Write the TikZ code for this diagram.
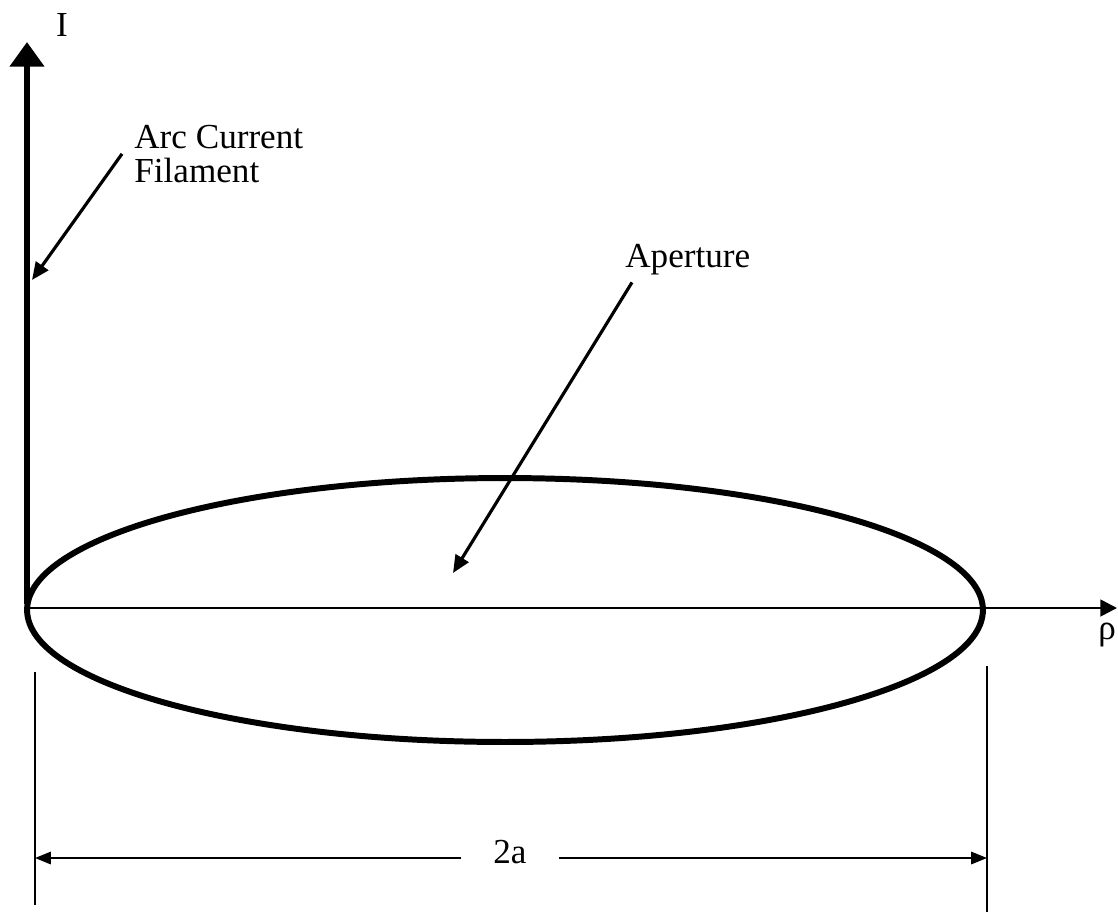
\documentclass[tikz,border=0pt]{standalone}
\usepackage{fontspec}
\setmainfont{Liberation Serif}
\usetikzlibrary{arrows.meta,shapes.geometric}
\tikzset{
  lbl/.style={font=\fontsize{20}{19}\selectfont,inner sep=0pt},
  leader/.style={line width=1.8pt,-{Triangle[length=10pt,width=8.5pt]}},
  dimline/.style={line width=1.2pt},
  dimarrow/.style={line width=1.2pt,-{Triangle[length=9pt,width=7pt]}},
}
\begin{document}
\begin{tikzpicture}[x=0.02cm,y=-0.02cm]
\useasboundingbox (0,0) rectangle (1118,920);
% axes
\coordinate (O) at (27,608);
\coordinate (Itip) at (27,42);
\coordinate (rhotip) at (1117,608);
\node[ellipse,draw,line width=3.4pt,minimum width=19.12cm,minimum height=5.28cm,inner sep=0pt,outer sep=0pt] (aperture) at (505,610) {};
\draw[line width=1.5pt,-{Triangle[length=9.5pt,width=9.5pt]}] (O) -- (rhotip);
\draw[line width=3.8pt,-{Triangle[length=14pt,width=19pt]}] (27,604) -- (Itip);
\node[lbl] (Ilbl) at (62,25) {I};
\node[lbl] (rholbl) at (1107,635) {ρ};
% labels and leaders
\node[lbl,anchor=north west,align=left] (arclbl) at (134,125) {Arc Current\\Filament};
\coordinate (arctip) at (32,280);
\draw[leader] ([xshift=-0.24cm]arclbl.west) -- (arctip);
\node[lbl,anchor=north west] (aplbl) at (625,244) {Aperture};
\coordinate (aptip) at (453,573);
\draw[leader] ([xshift=0.14cm,yshift=-0.14cm]aplbl.south west) -- (aptip);
% dimension 2a
\coordinate (dLt) at (35,672);\coordinate (dLb) at (35,905);
\coordinate (dRt) at (987,666);\coordinate (dRb) at (987,912);
\draw[dimline] (dLt) -- (dLb);
\draw[dimline] (dRt) -- (dRb);
\coordinate (dL) at (35,858);\coordinate (dR) at (987,858);
\node[lbl,inner xsep=0.64cm] (dimlbl) at (510,852) {2a};
\draw[dimarrow] (dimlbl.west |- dL) -- (dL);
\draw[dimarrow] (dimlbl.east |- dR) -- (dR);
\end{tikzpicture}
\end{document}
